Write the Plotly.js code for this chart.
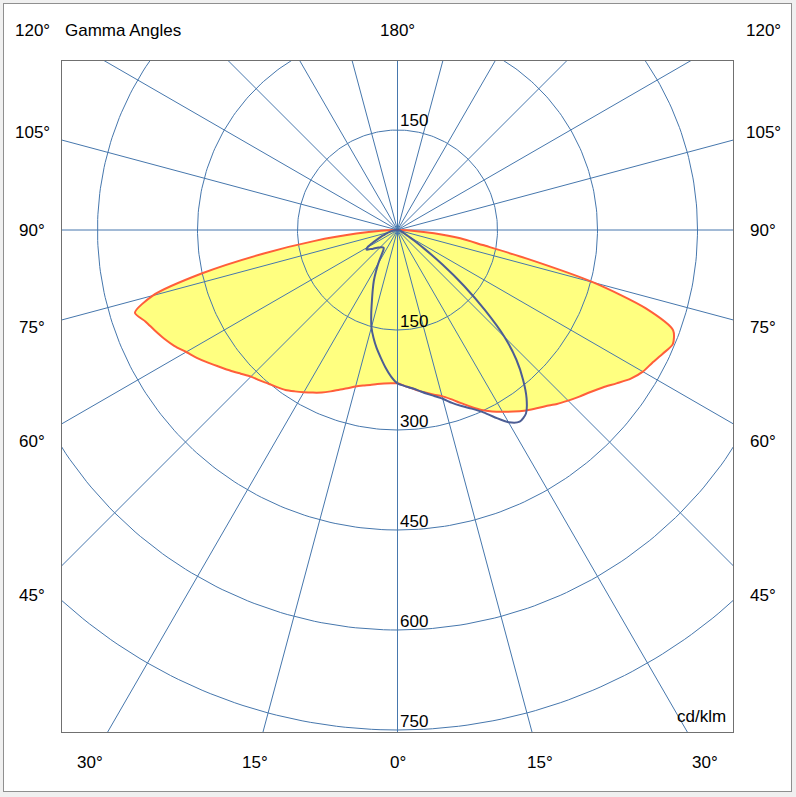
<!DOCTYPE html>
<html>
<head>
<meta charset="utf-8">
<script src="https://cdn.plot.ly/plotly-3.0.1.min.js"></script>
<style>
html,body{margin:0;padding:0;background:#f0f0f0;}
#frame{position:absolute;left:3px;top:3px;width:787px;height:787px;border:1px solid #8f8f8f;background:#ffffff;}
#chart{width:787px;height:787px;}
</style>
</head>
<body>
<div id="frame"><div id="chart"></div></div>
<script>
// Gamma angles (degrees from nadir) at which intensities were read
const gammaAngles = [0,2.5,5,7.5,10,12.5,15,17.5,20,22.5,25,27.5,30,32.5,35,37.5,40,42.5,45,47.5,50,52.5,55,57.5,60,62.5,65,67.5,70,72.5,75,77.5,80,82.5,85,87.5,90];

// Yellow (filled) C-plane, cd/klm
const yellowLeft  = [230,230,231,233,236,239,243,249,255,262,269,275,281,287,293,297,301,306,311,319,328,337,347,357,366,377,386,394,402,413,380,300,205,125,62,25,5];
const yellowRight = [230,234,238,243,248,253,258,266,276,287,298,307,315,323,331,338,345,354,362,370,378,388,401,415,425,431,439,447,440,390,305,200,130,95,55,22,5];

// Blue C-plane, cd/klm
const blueLeft  = [230,220,207,193,180,166,151,131,112,97,84,70,57,45,37,34,34,35,37,39,42,46,50,55,52,43,34,27,21,17,14,11,9,7,5,4,3];
const blueRight = [230,234,238,243,249,255,262,272,281,290,301,317,333,341,336,318,293,264,227,178,130,85,50,30,18,13,10,8,7,6,5,5,4,4,3,3,2];

// Grid
const circleValues = [150,300,450,600,750];
const spokeAngles = [0,15,30,45,60,75,90,105,120,135,150,165];

// Angle labels: [gamma, side] side -1 = left, 1 = right, 0 = centre
const angleLabelGammas = [0,15,15,30,30,45,45,60,60,75,75,90,90,105,105,120,120,180];
const angleLabelSides  = [0,-1,1,-1,1,-1,1,-1,1,-1,1,-1,1,-1,1,-1,1,0];

const unitLabel = 'cd/klm';
const diagramTitle = 'Gamma Angles';

const XR = [-503.25, 503.25];
const YR = [-753, 253.5];
const FONT = {family: 'Liberation Sans, Arial, sans-serif', size: 17, color: '#000000'};

const rad = d => d * Math.PI / 180;
function curveXY(left, right) {
  const x = [], y = [];
  for (let i = gammaAngles.length - 1; i >= 0; i--) {
    const g = rad(gammaAngles[i]);
    x.push(-left[i] * Math.sin(g)); y.push(-left[i] * Math.cos(g));
  }
  for (let i = 1; i < gammaAngles.length; i++) {
    const g = rad(gammaAngles[i]);
    x.push(right[i] * Math.sin(g)); y.push(-right[i] * Math.cos(g));
  }
  x.push(x[0]); y.push(y[0]);
  return {x, y};
}

const yc = curveXY(yellowLeft, yellowRight);
const bc = curveXY(blueLeft, blueRight);

// circles
const cx = [], cy = [];
circleValues.forEach(v => {
  for (let a = 0; a <= 360; a += 1) { cx.push(v * Math.sin(rad(a))); cy.push(-v * Math.cos(rad(a))); }
  cx.push(null); cy.push(null);
});
// spokes
const sx = [], sy = [];
const R = 3000;
spokeAngles.forEach(a => {
  sx.push(R * Math.sin(rad(a)), -R * Math.sin(rad(a)), null);
  sy.push(-R * Math.cos(rad(a)), R * Math.cos(rad(a)), null);
});

const GRID = '#4677ad';
const SPL = {shape: 'spline', smoothing: 0.7};
const traces = [
  {x: yc.x, y: yc.y, mode: 'lines', fill: 'toself', fillcolor: '#ffff80', line: Object.assign({width: 0, color: 'rgba(0,0,0,0)'}, SPL), hoverinfo: 'skip'},
  {x: cx, y: cy, mode: 'lines', line: {color: GRID, width: 1}, hoverinfo: 'skip'},
  {x: sx, y: sy, mode: 'lines', line: {color: GRID, width: 1}, hoverinfo: 'skip'},
  {x: yc.x, y: yc.y, mode: 'lines', line: Object.assign({color: '#ff5e3a', width: 2}, SPL), hoverinfo: 'skip'},
  {x: bc.x, y: bc.y, mode: 'lines', line: Object.assign({color: '#4c5d94', width: 2}, SPL), hoverinfo: 'skip'}
];

const toPX = x => (x - XR[0]) / (XR[1] - XR[0]);
const toPY = y => (y - YR[0]) / (YR[1] - YR[0]);

const annotations = [];
// angle labels positioned on an outer rectangle around the plot
const halfW = 548.25, topY = 298.5, botY = -798;
angleLabelGammas.forEach((g, i) => {
  const s = angleLabelSides[i];
  const dx = Math.sin(rad(g)), dy = -Math.cos(rad(g));
  let tx = Infinity, ty = Infinity;
  if (Math.abs(dx) > 1e-9) tx = halfW / Math.abs(dx);
  if (dy < -1e-9) ty = botY / dy; else if (dy > 1e-9) ty = topY / dy;
  let x, y;
  if (tx <= ty) { x = s * halfW; y = dy * tx; }
  else { x = s * dx * ty; y = dy * ty; if (dy > 0 && s !== 0) x = s * halfW; }
  annotations.push({xref: 'paper', yref: 'paper', x: toPX(x), y: toPY(y), text: g + '°', showarrow: false, xanchor: 'center', yanchor: 'middle', font: FONT});
});
// value labels
circleValues.forEach(v => {
  annotations.push({xref: 'x', yref: 'y', x: 0, y: -v, text: String(v), showarrow: false, xanchor: 'left', yanchor: 'middle', yshift: 9, font: FONT});
});
annotations.push({xref: 'x', yref: 'y', x: 0, y: circleValues[0], text: String(circleValues[0]), showarrow: false, xanchor: 'left', yanchor: 'middle', yshift: 10, font: FONT});
annotations.push({xref: 'paper', yref: 'paper', x: 0.0015, y: toPY(298.5), text: diagramTitle, showarrow: false, xanchor: 'left', yanchor: 'middle', font: FONT});
annotations.push({xref: 'paper', yref: 'paper', x: 0.9925, y: 0.0238, text: unitLabel, showarrow: false, xanchor: 'right', yanchor: 'middle', font: FONT});

const layout = {
  width: 787, height: 787,
  margin: {l: 58, r: 58, t: 57, b: 59},
  paper_bgcolor: '#ffffff', plot_bgcolor: '#ffffff',
  showlegend: false, hovermode: false,
  xaxis: {range: XR, showgrid: false, zeroline: false, showticklabels: false, ticks: '', showline: true, mirror: true, linecolor: '#707070', linewidth: 1, fixedrange: true},
  yaxis: {range: YR, showgrid: false, zeroline: false, showticklabels: false, ticks: '', showline: true, mirror: true, linecolor: '#707070', linewidth: 1, fixedrange: true},
  annotations: annotations
};

Plotly.newPlot('chart', traces, layout, {displayModeBar: false, staticPlot: true});
</script>
</body>
</html>
